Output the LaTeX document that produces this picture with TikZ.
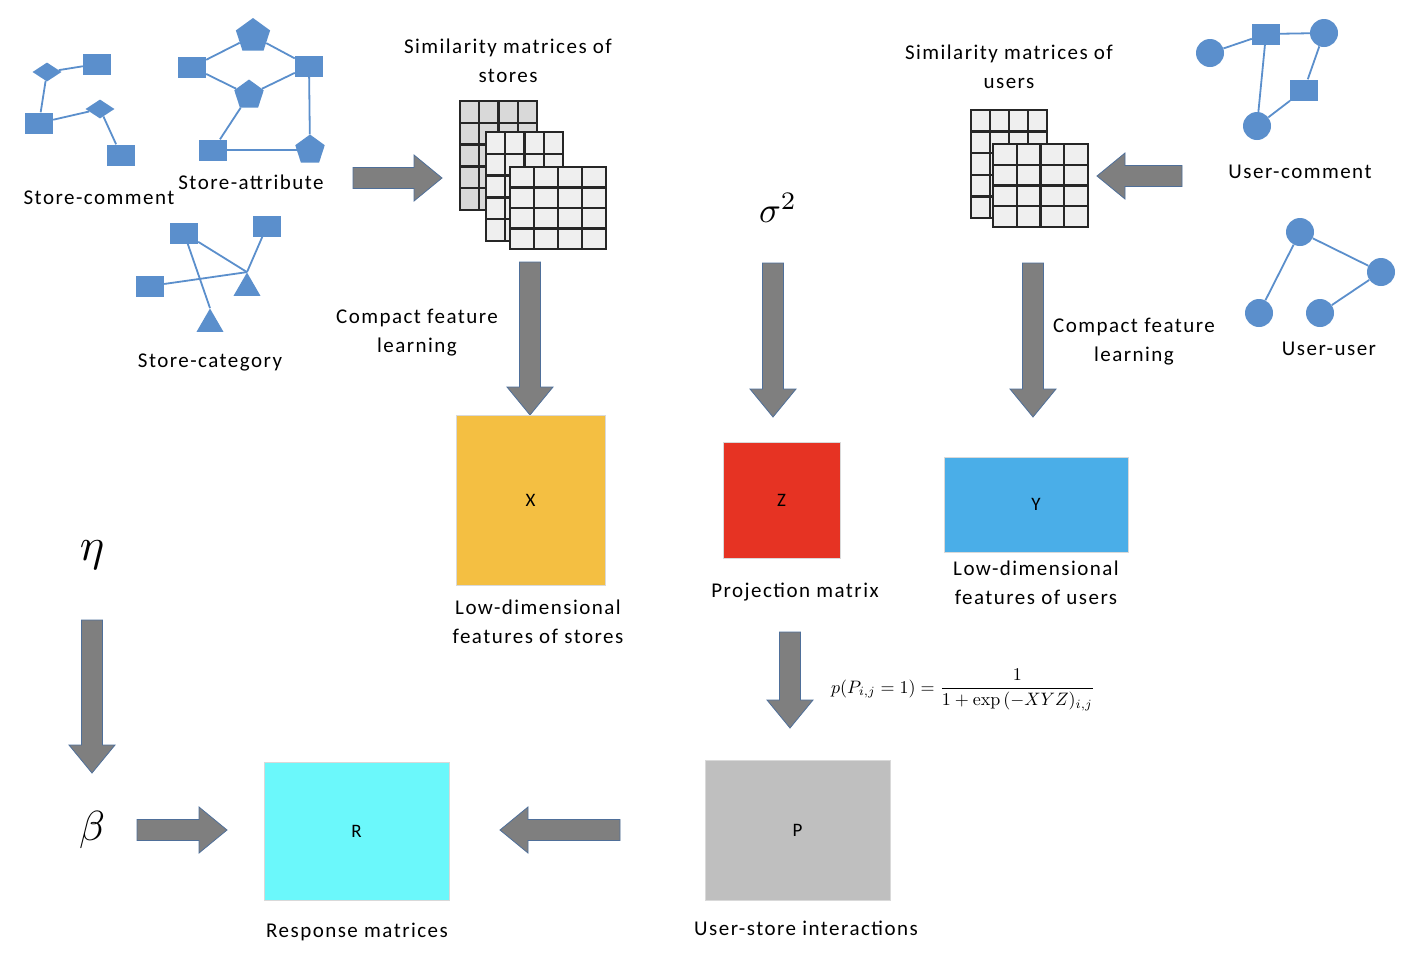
\documentclass[tikz,border=0pt]{standalone}
\usepackage[no-math]{fontspec}
\setmainfont{Carlito}
\newfontfamily\lbfont[LetterSpace=7]{Carlito}
\usetikzlibrary{shapes.geometric}
\definecolor{nodeblue}{HTML}{5B8FCC}
\definecolor{arrowgray}{HTML}{7F7F7F}
\definecolor{arrowedge}{HTML}{4F6F99}
\definecolor{xcol}{HTML}{F4BF42}
\definecolor{zcol}{HTML}{E63323}
\definecolor{ycol}{HTML}{4AAEE8}
\definecolor{pcol}{HTML}{BFBFBF}
\definecolor{rcol}{HTML}{6BF8FB}
\definecolor{mback}{HTML}{D9D9D9}
\definecolor{mfront}{HTML}{EFEFEF}
\tikzset{
 lbl/.style={font=\lbfont\fontsize{21}{29}\selectfont, align=center, inner sep=0pt},
 sq/.style={rectangle, fill=nodeblue, minimum width=28pt, minimum height=21pt, inner sep=0pt},
 dia/.style={diamond, fill=nodeblue, minimum width=29pt, minimum height=19pt, inner sep=0pt},
 pentbig/.style={regular polygon, regular polygon sides=5, fill=nodeblue, minimum size=36pt, inner sep=0pt},
 pent/.style={regular polygon, regular polygon sides=5, fill=nodeblue, minimum size=31pt, inner sep=0pt},
 tri/.style={regular polygon, regular polygon sides=3, fill=nodeblue, minimum size=31pt, inner sep=0pt},
 circ/.style={circle, fill=nodeblue, minimum size=28pt, inner sep=0pt},
 gedge/.style={draw=nodeblue, line width=1.8pt},
 blockarr/.style={fill=arrowgray, draw=arrowedge, line width=0.8pt, line join=miter},
 gridline/.style={line width=2.4pt, draw=black!85},
 databox/.style={draw=black!15, line width=1pt, inner sep=0pt, font=\lbfont\fontsize{19}{22}\selectfont},
 symb/.style={inner sep=0pt, transform shape},
}
\newcommand\blockarrow[4]{%
 \begin{scope}[shift={(#1,#2)}, rotate=#4]
 \path[blockarr] (0,-10.5) -- ({#3-28},-10.5) -- ({#3-28},-23) -- (#3,0) -- ({#3-28},23) -- ({#3-28},10.5) -- (0,10.5) -- cycle;
 \end{scope}}
\newcommand\simgrid[7]{%
 \path[fill=#7] (#1,#2) rectangle (#3,#4);
 \foreach \i in {1,...,\numexpr#5-1\relax} \draw[gridline] ({#1+(#3-#1)*\i/#5},#2) -- ({#1+(#3-#1)*\i/#5},#4);
 \foreach \j in {1,...,\numexpr#6-1\relax} \draw[gridline] (#1,{#2+(#4-#2)*\j/#6}) -- (#3,{#2+(#4-#2)*\j/#6});
 \draw[gridline] (#1,#2) rectangle (#3,#4);
}
\begin{document}
\begin{tikzpicture}[x=1pt,y=-1pt]
\useasboundingbox[fill=white] (0,0) rectangle (1414,962);

% ---- Store-comment graph
\node[dia] (sc1) at (47,72) {};
\node[sq] (sc2) at (97,64) {};
\node[sq] (sc3) at (39,123) {};
\node[dia] (sc4) at (100,109) {};
\node[sq] (sc5) at (121,155) {};
\draw[gedge] (sc1) -- (sc2);
\draw[gedge] (sc1) -- (sc3);
\draw[gedge] (sc3) -- (sc4);
\draw[gedge] (sc4) -- (sc5);
\node[lbl] (lsc) at (99,198) {Store-comment};

% ---- Store-attribute graph
\node[pentbig] (pa1) at (253,36) {};
\node[sq] (pa2) at (192,67) {};
\node[sq] (pa3) at (309,66) {};
\node[pent] (pa4) at (249,95) {};
\node[sq] (pa5) at (213,150) {};
\node[pent] (pa6) at (310,150) {};
\draw[gedge] (pa2) -- (pa1);
\draw[gedge] (pa1) -- (pa3);
\draw[gedge] (pa2) -- (pa4);
\draw[gedge] (pa4) -- (pa3);
\draw[gedge] (pa4) -- (pa5);
\draw[gedge] (pa5) -- (pa6);
\draw[gedge] (pa3) -- (pa6);
\node[lbl] (lsa) at (251,182) {Store-attribute};

% ---- Store-category graph
\node[sq] (ca1) at (184,233) {};
\node[sq] (ca2) at (267,226) {};
\node[sq] (ca3) at (150,286) {};
\node[tri] (ca4) at (247,288) {};
\node[tri] (ca5) at (210,324) {};
\draw[gedge] (ca1) -- (ca4.corner 1);
\draw[gedge] (ca2) -- (ca4.corner 1);
\draw[gedge] (ca3) -- (ca4.corner 1);
\draw[gedge] (ca1) -- (ca5.corner 1);
\node[lbl] (lsg) at (210,362) {Store-category};

% ---- store similarity matrices
\node[lbl] (lsm) at (508,61) {Similarity matrices of\\stores};
\simgrid{460}{101}{537}{210}{4}{5}{mback}
\simgrid{486}{132}{563}{241}{4}{5}{mfront}
\simgrid{510}{167}{606}{249}{4}{4}{mfront}

% ---- user similarity matrices
\node[lbl] (lum) at (1009,67) {Similarity matrices of\\users};
\simgrid{971}{110}{1047}{218}{4}{5}{mfront}
\simgrid{993}{144}{1088}{227}{4}{4}{mfront}

% ---- User-comment graph
\node[circ] (uc1) at (1210,53) {};
\node[sq] (uc2) at (1266,34) {};
\node[circ] (uc3) at (1324,33) {};
\node[sq] (uc4) at (1304,90) {};
\node[circ] (uc5) at (1257,126) {};
\draw[gedge] (uc1) -- (uc2);
\draw[gedge] (uc2) -- (uc3);
\draw[gedge] (uc2) -- (uc5);
\draw[gedge] (uc3) -- (uc4);
\draw[gedge] (uc4) -- (uc5);
\node[lbl] (luc) at (1300,172) {User-comment};

% ---- User-user graph
\node[circ] (uu1) at (1300,232) {};
\node[circ] (uu2) at (1381,272) {};
\node[circ] (uu3) at (1259,313) {};
\node[circ] (uu4) at (1320,313) {};
\draw[gedge] (uu1) -- (uu2);
\draw[gedge] (uu1) -- (uu3);
\draw[gedge] (uu2) -- (uu4);
\node[lbl] (luu) at (1329,349) {User-user};

% ---- block arrows
\blockarrow{353}{178}{89}{0}
\blockarrow{530}{262}{153}{-90}
\blockarrow{773}{263}{154}{-90}
\blockarrow{1182}{176}{85}{180}
\blockarrow{1033}{263}{154}{-90}
\blockarrow{790}{632}{96}{-90}
\blockarrow{620}{830}{120}{180}
\blockarrow{92}{620}{153}{-90}
\blockarrow{137}{830}{90}{0}

\node[lbl] (lcf1) at (417,333) {Compact feature\\learning};
\node[lbl] (lcf2) at (1134,342) {Compact feature\\learning};

% ---- symbols
\node[symb, scale=3.6] (sig) at (778,208) {$\sigma^2$};
\node[symb, scale=4.6] (eta) at (92,555) {$\eta$};
\node[symb, scale=4.2] (beta) at (92,830) {$\beta$};

% ---- data boxes
\node[databox, fill=xcol, minimum width=149pt, minimum height=170pt] (X) at (530.5,500) {X};
\node[databox, fill=zcol, minimum width=117pt, minimum height=116pt] (Z) at (781.5,500) {Z};
\node[databox, fill=ycol, minimum width=184pt, minimum height=95pt] (Y) at (1036,504.5) {Y};
\node[databox, fill=pcol, minimum width=185pt, minimum height=140pt] (P) at (797.5,830) {P};
\node[databox, fill=rcol, minimum width=185pt, minimum height=138pt] (R) at (356.5,831) {R};

\node[lbl] (lX) at (538,622) {Low-dimensional\\features of stores};
\node[lbl] (lZ) at (795,592) {Projection matrix};
\node[lbl] (lY) at (1036,583) {Low-dimensional\\features of users};
\node[lbl] (lP) at (806,928) {User-store interactions};
\node[lbl] (lR) at (357,932) {Response matrices};

% ---- formula
\node[symb, scale=1.8] (fml) at (963,690)
 {$\displaystyle p(P_{i,j} = 1) = \frac{1}{1+\exp\,(-XYZ)_{i,j}}$};
\end{tikzpicture}
\end{document}
